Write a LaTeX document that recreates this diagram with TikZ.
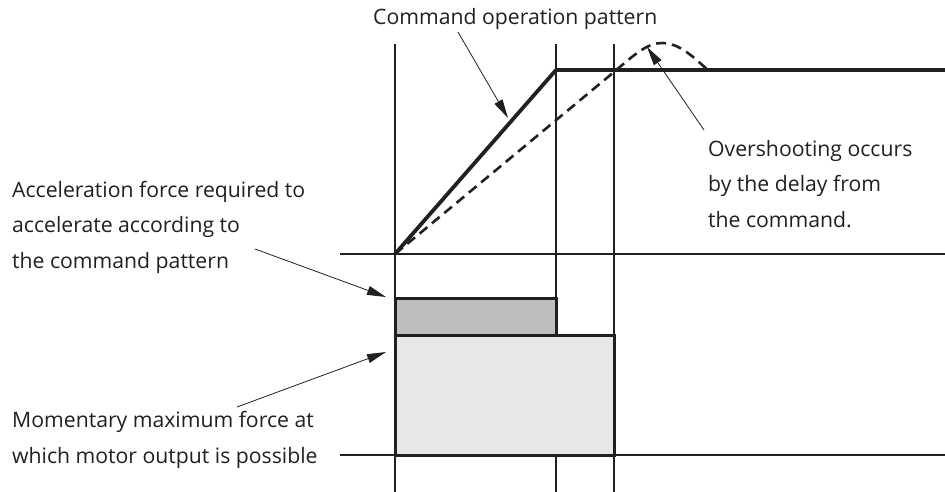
\documentclass[tikz,border=0pt]{standalone}
\usepackage{fontspec}
\setmainfont{Open Sans}
\usetikzlibrary{arrows.meta}
\definecolor{ink}{HTML}{231F20}
\definecolor{accfill}{HTML}{BCBEC0}
\definecolor{maxfill}{HTML}{E6E7E8}

\begin{document}
\begin{tikzpicture}[x=1pt,y=-1pt,
  thin line/.style={ink,line width=1.2pt},
  bold line/.style={ink,line width=3.8pt},
  pointer/.style={ink,line width=0.8pt,-{Triangle[length=19pt,width=9pt]}},
  label/.style={font=\fontsize{21.2}{35.5}\selectfont,text=ink,align=left,inner sep=0pt,anchor=base west}]
  \useasboundingbox (0,0) rectangle (945,492);
  % grid
  \foreach \x in {395,556,614} \draw[thin line] (\x,44) -- (\x,492);
  \draw[thin line] (340,254) -- (945,254);
  \draw[thin line] (340,455) -- (945,455);
  % force blocks
  \draw[ink,line width=3pt,fill=maxfill] (395,335) rectangle (614,455);
  \draw[ink,line width=3pt,fill=accfill] (395,298) rectangle (556,335);
  % motion patterns
  \draw[ink,line width=2.6pt,dash pattern=on 10pt off 6pt]
    (395,254) -- (614,72) .. controls (636,53) and (648,43) .. (662,43)
    .. controls (680,43) and (694,58) .. (708,70);
  \draw[bold line,line join=round] (395,254) -- (556,70) -- (945,70);
  % labels (anchored at the baseline of the last line)
  \node[label] (cmd) at (373,25) {Command operation pattern};
  \node[label] (over) at (708,227) {Overshooting occurs\\by the delay from\\the command.};
  \node[label] (acc) at (12,268) {Acceleration force required to\\accelerate according to\\the command pattern};
  \node[label] (mom) at (12,463) {Momentary maximum force at\\which motor output is possible};
  \coordinate (cmdtail) at (458,32);
  \coordinate (cmdtip) at (508,118);
  \coordinate (overtail) at (704,130);
  \coordinate (overtip) at (647,47);
  \coordinate (acctail) at (255,249);
  \coordinate (acctip) at (386,297);
  \coordinate (momtail) at (237,407);
  \coordinate (momtip) at (386,352);
  \draw[pointer] (cmdtail) -- (cmdtip);
  \draw[pointer] (overtail) -- (overtip);
  \draw[pointer] (acctail) -- (acctip);
  \draw[pointer] (momtail) -- (momtip);
\end{tikzpicture}
\end{document}
